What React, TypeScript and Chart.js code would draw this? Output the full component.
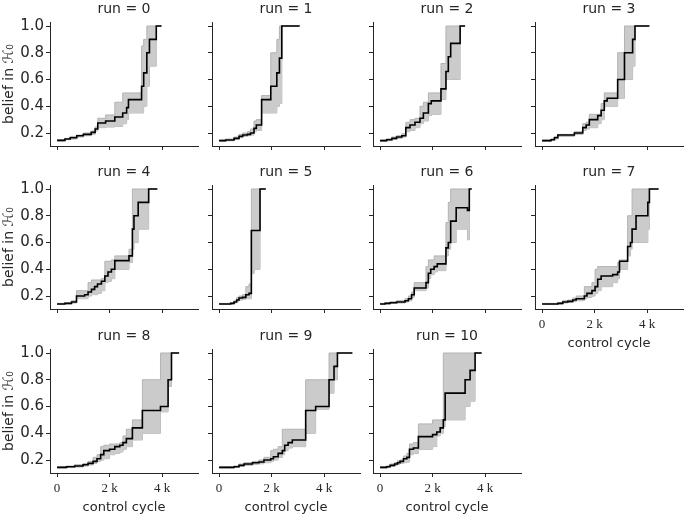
import React, { useEffect, useRef } from "react";
import { Chart, registerables } from "chart.js";
Chart.register(...registerables);

// ---------- data (x in thousands of control cycles) ----------
const X_TICKS = [0, 2, 4];
const X_TICK_LABELS = ["0", "2 k", "4 k"];
const Y_TICKS = [0.2, 0.4, 0.6, 0.8, 1.0];
const Y_TICK_LABELS = ["0.2", "0.4", "0.6", "0.8", "1.0"];
const RUN_TITLES = ["run = 0", "run = 1", "run = 2", "run = 3", "run = 4", "run = 5", "run = 6", "run = 7", "run = 8", "run = 9", "run = 10"];
const X_LABEL = "control cycle";
const Y_LABEL = "belief in \u210B\u2080";

const run0X = [0, 0.3, 0.5, 0.75, 1.0, 1.3, 1.45, 1.55, 1.85, 2.2, 2.5, 2.65, 2.72, 3.22, 3.3, 3.42, 3.52, 3.78, 3.98];
const run0Mean = [0.145, 0.155, 0.165, 0.18, 0.19, 0.205, 0.23, 0.275, 0.29, 0.32, 0.35, 0.39, 0.45, 0.55, 0.65, 0.8, 0.9, 1.0, 1.0];
const run0Lo = [0.14, 0.15, 0.155, 0.17, 0.18, 0.19, 0.215, 0.24, 0.245, 0.25, 0.27, 0.3, 0.35, 0.35, 0.4, 0.55, 0.7, 1.0, 1.0];
const run0Hi = [0.15, 0.16, 0.175, 0.185, 0.2, 0.215, 0.245, 0.31, 0.335, 0.43, 0.5, 0.5, 0.5, 0.85, 0.9, 1.0, 1.0, 1.0, 1.0];

const run1X = [0, 0.25, 0.57, 0.76, 0.9, 1.08, 1.2, 1.33, 1.42, 1.62, 1.97, 2.2, 2.3, 2.39, 3.07];
const run1Mean = [0.143, 0.148, 0.16, 0.175, 0.185, 0.19, 0.2, 0.235, 0.26, 0.45, 0.55, 0.65, 0.76, 1.0, 1.0];
const run1Lo = [0.138, 0.142, 0.152, 0.165, 0.175, 0.18, 0.185, 0.21, 0.22, 0.35, 0.35, 0.4, 0.42, 1.0, 1.0];
const run1Hi = [0.148, 0.155, 0.17, 0.19, 0.2, 0.21, 0.23, 0.29, 0.3, 0.48, 0.8, 0.9, 1.0, 1.0, 1.0];

const run2X = [0, 0.25, 0.45, 0.63, 0.83, 0.98, 1.14, 1.33, 1.52, 1.65, 1.84, 1.95, 2.32, 2.51, 2.6, 2.69, 3.05, 3.24];
const run2Mean = [0.143, 0.15, 0.16, 0.17, 0.18, 0.24, 0.26, 0.28, 0.31, 0.35, 0.42, 0.44, 0.53, 0.66, 0.77, 0.87, 1.0, 1.0];
const run2Lo = [0.138, 0.143, 0.152, 0.16, 0.17, 0.21, 0.22, 0.24, 0.27, 0.29, 0.33, 0.34, 0.45, 0.6, 0.6, 0.6, 1.0, 1.0];
const run2Hi = [0.148, 0.157, 0.17, 0.18, 0.195, 0.28, 0.3, 0.31, 0.4, 0.43, 0.5, 0.5, 0.72, 1.0, 1.0, 1.0, 1.0, 1.0];

const run3X = [0, 0.34, 0.47, 0.6, 1.23, 1.55, 1.68, 1.8, 2.12, 2.25, 2.37, 2.48, 2.88, 3.14, 3.45, 3.54, 4.09];
const run3Mean = [0.143, 0.15, 0.165, 0.185, 0.2, 0.24, 0.26, 0.3, 0.33, 0.37, 0.44, 0.46, 0.6, 0.8, 0.9, 1.0, 1.0];
const run3Lo = [0.138, 0.145, 0.155, 0.175, 0.19, 0.22, 0.23, 0.24, 0.27, 0.3, 0.4, 0.4, 0.46, 0.6, 0.7, 1.0, 1.0];
const run3Hi = [0.148, 0.157, 0.175, 0.19, 0.21, 0.27, 0.28, 0.34, 0.34, 0.42, 0.5, 0.5, 0.8, 1.0, 1.0, 1.0, 1.0];

const run4X = [0, 0.29, 0.55, 0.74, 1.05, 1.18, 1.31, 1.43, 1.54, 1.69, 1.82, 1.94, 2.07, 2.2, 2.74, 2.87, 2.93, 3.09, 3.49, 3.82];
const run4Mean = [0.14, 0.145, 0.155, 0.2, 0.21, 0.23, 0.25, 0.27, 0.29, 0.31, 0.35, 0.38, 0.4, 0.465, 0.5, 0.7, 0.8, 0.9, 1.0, 1.0];
const run4Lo = [0.137, 0.14, 0.148, 0.18, 0.18, 0.2, 0.21, 0.21, 0.22, 0.24, 0.3, 0.31, 0.33, 0.4, 0.45, 0.55, 0.6, 0.7, 1.0, 1.0];
const run4Hi = [0.145, 0.15, 0.165, 0.24, 0.24, 0.3, 0.32, 0.32, 0.32, 0.33, 0.46, 0.46, 0.47, 0.5, 0.55, 1.0, 1.0, 1.0, 1.0, 1.0];

const run5X = [0, 0.44, 0.57, 0.67, 0.76, 0.89, 1.02, 1.14, 1.23, 1.34, 1.56, 1.78];
const run5Mean = [0.14, 0.145, 0.155, 0.17, 0.185, 0.19, 0.21, 0.22, 0.69, 0.69, 1.0, 1.0];
const run5Lo = [0.137, 0.14, 0.148, 0.16, 0.17, 0.175, 0.18, 0.18, 0.37, 0.4, 1.0, 1.0];
const run5Hi = [0.145, 0.152, 0.165, 0.19, 0.2, 0.21, 0.27, 0.29, 1.0, 1.0, 1.0, 1.0];

const run6X = [0, 0.19, 0.38, 0.63, 0.95, 1.08, 1.2, 1.3, 1.75, 1.84, 1.93, 2.06, 2.18, 2.51, 2.6, 2.69, 2.9, 3.33, 3.4, 3.49];
const run6Mean = [0.14, 0.145, 0.15, 0.155, 0.165, 0.18, 0.21, 0.26, 0.3, 0.37, 0.4, 0.42, 0.44, 0.56, 0.6, 0.76, 0.86, 0.84, 1.0, 1.0];
const run6Lo = [0.137, 0.14, 0.145, 0.148, 0.155, 0.165, 0.19, 0.24, 0.26, 0.33, 0.36, 0.38, 0.39, 0.5, 0.55, 0.6, 0.7, 0.62, 1.0, 1.0];
const run6Hi = [0.145, 0.15, 0.157, 0.165, 0.18, 0.2, 0.23, 0.3, 0.42, 0.47, 0.47, 0.5, 0.5, 0.75, 0.9, 1.0, 1.0, 1.0, 1.0, 1.0];

const run7X = [0, 0.6, 0.79, 0.98, 1.17, 1.3, 1.61, 1.71, 1.9, 2.02, 2.12, 2.25, 2.69, 2.88, 2.95, 3.26, 3.37, 3.43, 3.58, 4.03, 4.09, 4.44];
const run7Mean = [0.14, 0.145, 0.155, 0.16, 0.17, 0.18, 0.2, 0.22, 0.24, 0.27, 0.325, 0.35, 0.36, 0.38, 0.46, 0.57, 0.6, 0.7, 0.8, 0.9, 1.0, 1.0];
const run7Lo = [0.137, 0.14, 0.148, 0.152, 0.158, 0.165, 0.18, 0.19, 0.2, 0.22, 0.24, 0.27, 0.3, 0.33, 0.4, 0.5, 0.55, 0.6, 0.6, 0.7, 1.0, 1.0];
const run7Hi = [0.145, 0.152, 0.165, 0.17, 0.185, 0.2, 0.27, 0.27, 0.3, 0.4, 0.42, 0.42, 0.42, 0.45, 0.47, 0.8, 0.8, 1.0, 1.0, 1.0, 1.0, 1.0];

const run8X = [0, 0.36, 0.67, 0.99, 1.18, 1.37, 1.52, 1.66, 1.78, 2.0, 2.2, 2.39, 2.51, 2.64, 2.87, 3.25, 3.94, 4.23, 4.36, 4.65];
const run8Mean = [0.145, 0.15, 0.155, 0.165, 0.175, 0.19, 0.21, 0.24, 0.27, 0.28, 0.3, 0.31, 0.33, 0.36, 0.44, 0.57, 0.6, 0.8, 1.0, 1.0];
const run8Lo = [0.14, 0.145, 0.148, 0.155, 0.163, 0.175, 0.19, 0.2, 0.21, 0.24, 0.25, 0.26, 0.28, 0.3, 0.35, 0.4, 0.56, 0.75, 1.0, 1.0];
const run8Hi = [0.15, 0.155, 0.165, 0.175, 0.19, 0.22, 0.24, 0.3, 0.31, 0.32, 0.32, 0.33, 0.38, 0.43, 0.5, 0.8, 1.0, 1.0, 1.0, 1.0];

const run9X = [0, 0.57, 0.76, 0.95, 1.27, 1.52, 1.71, 1.97, 2.07, 2.25, 2.41, 2.5, 2.63, 2.79, 3.3, 3.68, 4.19, 4.38, 4.51, 5.08];
const run9Mean = [0.145, 0.15, 0.16, 0.17, 0.18, 0.185, 0.2, 0.21, 0.225, 0.25, 0.27, 0.31, 0.33, 0.35, 0.57, 0.6, 0.8, 0.9, 1.0, 1.0];
const run9Lo = [0.14, 0.145, 0.152, 0.16, 0.168, 0.172, 0.18, 0.19, 0.2, 0.22, 0.24, 0.27, 0.29, 0.3, 0.4, 0.58, 0.7, 0.8, 1.0, 1.0];
const run9Hi = [0.15, 0.156, 0.17, 0.18, 0.19, 0.2, 0.22, 0.27, 0.28, 0.3, 0.43, 0.43, 0.43, 0.43, 0.8, 0.8, 1.0, 1.0, 1.0, 1.0];

const run10X = [0, 0.25, 0.38, 0.55, 0.66, 0.76, 0.89, 1.02, 1.12, 1.27, 1.46, 2.0, 2.16, 2.29, 2.41, 2.48, 3.24, 3.43, 3.62, 3.87];
const run10Mean = [0.145, 0.15, 0.16, 0.17, 0.18, 0.19, 0.21, 0.22, 0.28, 0.29, 0.375, 0.39, 0.41, 0.44, 0.5, 0.7, 0.8, 0.87, 1.0, 1.0];
const run10Lo = [0.14, 0.145, 0.152, 0.16, 0.168, 0.175, 0.18, 0.185, 0.24, 0.25, 0.28, 0.3, 0.38, 0.4, 0.45, 0.5, 0.6, 0.64, 1.0, 1.0];
const run10Hi = [0.15, 0.156, 0.17, 0.18, 0.195, 0.2, 0.23, 0.25, 0.32, 0.33, 0.47, 0.5, 0.5, 0.5, 1.0, 1.0, 1.0, 1.0, 1.0, 1.0];

const RUNS = [
  { x: run0X, mean: run0Mean, lo: run0Lo, hi: run0Hi },
  { x: run1X, mean: run1Mean, lo: run1Lo, hi: run1Hi },
  { x: run2X, mean: run2Mean, lo: run2Lo, hi: run2Hi },
  { x: run3X, mean: run3Mean, lo: run3Lo, hi: run3Hi },
  { x: run4X, mean: run4Mean, lo: run4Lo, hi: run4Hi },
  { x: run5X, mean: run5Mean, lo: run5Lo, hi: run5Hi },
  { x: run6X, mean: run6Mean, lo: run6Lo, hi: run6Hi },
  { x: run7X, mean: run7Mean, lo: run7Lo, hi: run7Hi },
  { x: run8X, mean: run8Mean, lo: run8Lo, hi: run8Hi },
  { x: run9X, mean: run9Mean, lo: run9Lo, hi: run9Hi },
  { x: run10X, mean: run10Mean, lo: run10Lo, hi: run10Hi },
];

// ---------- layout & style ----------
const X_MIN = -0.27;
const X_MAX = 5.37;
const Y_MIN = 0.103;
const Y_MAX = 1.03;
const COL_LEFT = [50, 212, 373, 535];
const ROW_TOP = [22, 185, 349];
const PLOT_W = 148;
const PLOT_H = 124;
const PAD_L = 50;
const PAD_T = 22;
const PAD_R = 2;
const PAD_B = 44;
const AXIS_COLOR = "#262626";
const TEXT_COLOR = "#262626";
const BAND_FILL = "#cbcbcb";
const BAND_EDGE = "#b3b3b3";

function Panel({ idx }: { idx: number }) {
  const ref = useRef<HTMLCanvasElement>(null);
  const row = Math.floor(idx / 4);
  const col = idx % 4;
  const W = PAD_L + PLOT_W + PAD_R;
  const H = PAD_T + PLOT_H + PAD_B;
  const left = COL_LEFT[col] - PAD_L;
  const top = ROW_TOP[row] - PAD_T;

  useEffect(() => {
    const run = RUNS[idx];
    const showY = col === 0;
    const showX = idx >= 7;
    const pts = (ys: number[]) => run.x.map((v, i) => ({ x: v, y: ys[i] }));
    const textPlugin = {
      id: "panelText" + idx,
      afterDraw(chart: any) {
        const { ctx, chartArea: a } = chart;
        ctx.save();
        ctx.fillStyle = TEXT_COLOR;
        ctx.textAlign = "center";
        ctx.textBaseline = "alphabetic";
        ctx.font = '14px "DejaVu Sans"';
        ctx.fillText(RUN_TITLES[idx], (a.left + a.right) / 2, a.top - 9);
        if (showX) {
          ctx.font = '13px "DejaVu Sans"';
          ctx.fillText(X_LABEL, (a.left + a.right) / 2, a.bottom + 38);
        }
        if (showY) {
          ctx.translate(a.left - 37, (a.top + a.bottom) / 2);
          ctx.rotate(-Math.PI / 2);
          ctx.font = '14px "DejaVu Sans"';
          ctx.fillText(Y_LABEL, 0, 0);
        }
        ctx.restore();
      },
    };
    const chart = new Chart(ref.current as HTMLCanvasElement, {
      type: "line",
      data: {
        datasets: [
          { data: pts(run.mean), borderColor: "#000000", borderWidth: 1.6, stepped: true, pointRadius: 0, fill: false },
          { data: pts(run.hi), borderColor: BAND_EDGE, borderWidth: 1, stepped: true, pointRadius: 0, fill: "+1", backgroundColor: BAND_FILL },
          { data: pts(run.lo), borderColor: BAND_EDGE, borderWidth: 1, stepped: true, pointRadius: 0, fill: false },
        ],
      },
      options: {
        animation: false,
        responsive: false,
        devicePixelRatio: 1,
        layout: { padding: { left: 0, top: PAD_T, right: PAD_R, bottom: 0 } },
        plugins: { legend: { display: false }, tooltip: { enabled: false }, title: { display: false } },
        scales: {
          x: {
            type: "linear",
            min: X_MIN,
            max: X_MAX,
            afterBuildTicks: (s: any) => { s.ticks = X_TICKS.map((v) => ({ value: v })); },
            afterFit: (s: any) => { s.height = PAD_B; },
            grid: { display: true, drawOnChartArea: false, drawTicks: true, tickLength: 4, color: AXIS_COLOR, lineWidth: 1 },
            border: { display: true, color: AXIS_COLOR, width: 1 },
            ticks: {
              autoSkip: false,
              maxRotation: 0,
              padding: 4,
              color: TEXT_COLOR,
              font: { family: '"Liberation Serif"', size: 13 },
              callback: (v: any) => (showX ? X_TICK_LABELS[X_TICKS.indexOf(Number(v))] : ""),
            },
          },
          y: {
            type: "linear",
            min: Y_MIN,
            max: Y_MAX,
            afterBuildTicks: (s: any) => { s.ticks = Y_TICKS.map((v) => ({ value: v })); },
            afterFit: (s: any) => { s.width = PAD_L; },
            grid: { display: true, drawOnChartArea: false, drawTicks: true, tickLength: 4, color: AXIS_COLOR, lineWidth: 1 },
            border: { display: true, color: AXIS_COLOR, width: 1 },
            ticks: {
              autoSkip: false,
              padding: 2,
              color: TEXT_COLOR,
              font: { family: '"DejaVu Sans"', size: 15 },
              callback: (v: any) => {
                if (!showY) return "";
                const i = Y_TICKS.findIndex((t) => Math.abs(t - Number(v)) < 1e-6);
                return i >= 0 ? Y_TICK_LABELS[i] : "";
              },
            },
          },
        },
      },
      plugins: [textPlugin],
    } as any);
    return () => chart.destroy();
  }, [idx]);

  return (
    <canvas
      ref={ref}
      width={W}
      height={H}
      style={{ position: "absolute", left, top, width: W, height: H }}
    />
  );
}

export default function App() {
  return (
    <div style={{ position: "fixed", left: 0, top: 0, width: 685, height: 517, background: "#ffffff", overflow: "hidden" }}>
      {RUNS.map((_, i) => (
        <Panel key={i} idx={i} />
      ))}
    </div>
  );
}
